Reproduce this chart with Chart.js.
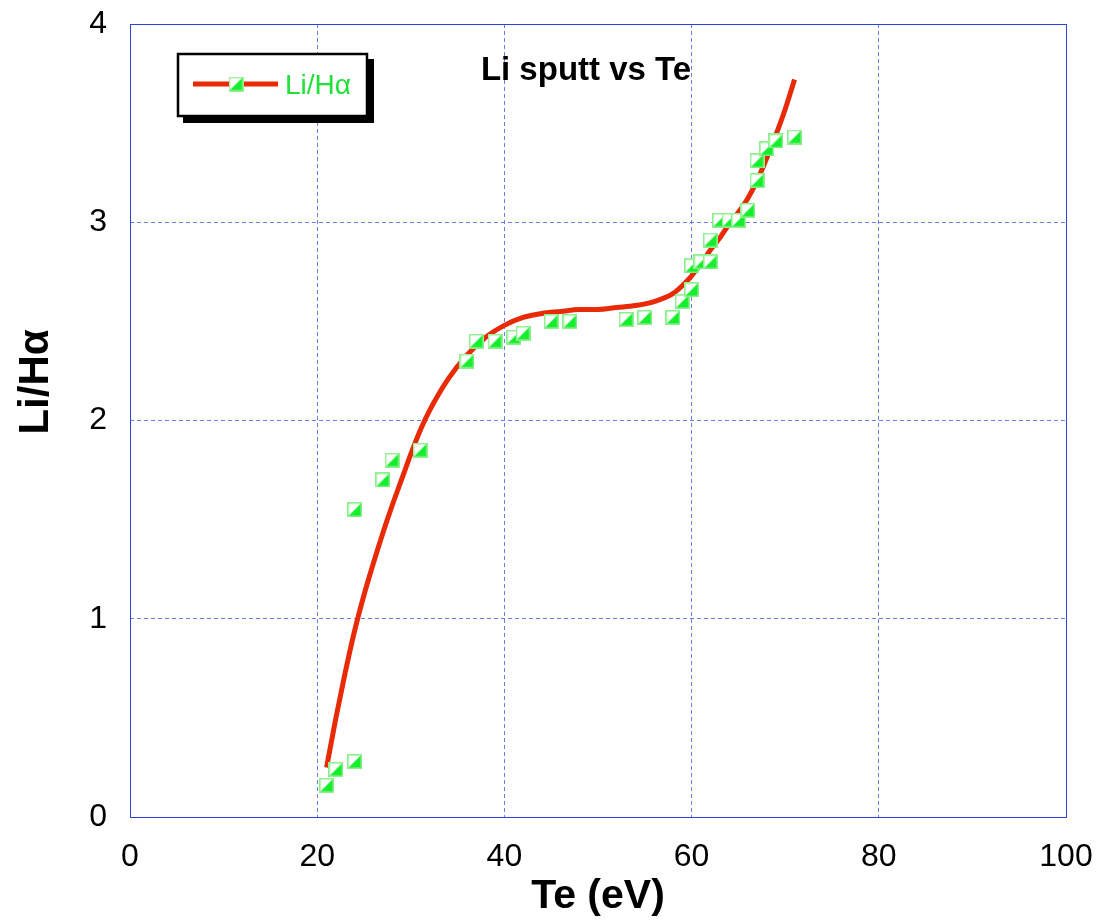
<!DOCTYPE html>
<html><head><meta charset="utf-8">
<script src="https://cdn.jsdelivr.net/npm/chart.js@4/dist/chart.umd.min.js"></script>
<style>html,body{margin:0;padding:0;background:#fff}#wrap{width:1099px;height:923px;position:relative}</style>
</head><body><div id="wrap"><canvas id="c"></canvas></div>
<script>
// measured points
const teData = [21,22,24,24,27,28,31,36,37,39,41,42,45,47,53,55,58,59,60,60,61,62,62,63,64,65,66,67,67,68,69,71];
const liData = [0.16,0.24,0.28,1.55,1.70,1.80,1.85,2.30,2.40,2.40,2.42,2.44,2.50,2.50,2.51,2.52,2.52,2.60,2.66,2.78,2.80,2.80,2.91,3.01,3.01,3.01,3.06,3.21,3.31,3.37,3.41,3.43];
// fitted curve
const fitTe = [21,22,23,24,25,26,27,28,29,30,31,32,34,36,38,40,42,44,46,48,50,52,54,56,58,59,60,61,62,63,64,65,66,67,68,69,70,71];
const fitLi = [0.25,0.50,0.73,0.94,1.12,1.28,1.43,1.57,1.70,1.83,1.95,2.05,2.21,2.33,2.42,2.48,2.52,2.54,2.55,2.56,2.56,2.57,2.58,2.60,2.64,2.68,2.73,2.79,2.86,2.92,2.99,3.05,3.12,3.21,3.32,3.44,3.57,3.72];
const xTicks = [0,20,40,60,80,100];
const yTicks = [0,1,2,3,4];
const seriesLabel = 'Li/H\u03b1';
const chartTitle = 'Li sputt vs Te';
const xTitle = 'Te (eV)';
const yTitle = 'Li/H\u03b1';

const FONT = "'Liberation Sans', Arial, sans-serif";
const GREEN = '#14ee2c';
const GREEN_EDGE = '#8cf08c';
const RED = '#e82a06';

function makeMarker(size) {
  const c = document.createElement('canvas');
  c.width = size; c.height = size;
  const g = c.getContext('2d');
  g.fillStyle = '#fff'; g.fillRect(0,0,size,size);
  g.fillStyle = GREEN;
  g.beginPath(); g.moveTo(0,size); g.lineTo(size,size); g.lineTo(size,0); g.closePath(); g.fill();
  g.strokeStyle = GREEN_EDGE; g.lineWidth = 1.6;
  g.strokeRect(0.8,0.8,size-1.6,size-1.6);
  return c;
}
const marker = makeMarker(15);

const decor = {
  id: 'decor',
  beforeDatasetsDraw(chart) {
    const {ctx, chartArea: a} = chart;
    ctx.save();
    ctx.strokeStyle = '#2a44dc'; ctx.lineWidth = 1;
    ctx.strokeRect(Math.round(a.left)+0.5, Math.round(a.top)+0.5, Math.round(a.right-a.left), Math.round(a.bottom-a.top));
    ctx.restore();
  },
  afterDraw(chart) {
    const {ctx} = chart;
    ctx.save();
    // title
    ctx.fillStyle = '#000';
    ctx.font = 'bold 33px ' + FONT;
    ctx.textAlign = 'center'; ctx.textBaseline = 'middle';
    ctx.fillText(chartTitle, 586, 71);
    // y title
    ctx.save();
    ctx.translate(36, 382);
    ctx.rotate(-Math.PI/2);
    ctx.font = 'bold 42px ' + FONT;
    ctx.fillText(yTitle, 0, 0);
    ctx.restore();
    // legend
    ctx.fillStyle = '#000';
    ctx.fillRect(183, 59, 191, 64);
    ctx.fillStyle = '#fff';
    ctx.fillRect(177, 53, 191, 64);
    ctx.strokeStyle = '#000'; ctx.lineWidth = 2.5;
    ctx.strokeRect(178, 54, 189, 62);
    ctx.strokeStyle = RED; ctx.lineWidth = 5;
    ctx.beginPath(); ctx.moveTo(193, 84); ctx.lineTo(278, 84); ctx.stroke();
    ctx.drawImage(marker, 236 - 7.5, 84 - 7.5);
    ctx.fillStyle = '#22e03a';
    ctx.font = '28px ' + FONT;
    ctx.textAlign = 'left';
    ctx.fillText(seriesLabel, 285, 86);
    ctx.restore();
  }
};

const gridColor = (ctx) => {
  const v = ctx.tick ? ctx.tick.value : null;
  return (v === 0 || v === 100 || v === 4) ? 'rgba(0,0,0,0)' : '#6a7fe6';
};
const noPad = (s) => { s.paddingTop = 0; s.paddingBottom = 0; s.paddingLeft = 0; s.paddingRight = 0; };

new Chart(document.getElementById('c'), {
  type: 'scatter',
  data: {
    datasets: [
      {
        label: seriesLabel,
        data: teData.map((x, i) => ({x, y: liData[i]})),
        pointStyle: marker,
        showLine: false
      },
      {
        label: 'fit',
        data: fitTe.map((x, i) => ({x, y: fitLi[i]})),
        showLine: true,
        borderColor: RED,
        borderWidth: 5,
        pointRadius: 0,
        cubicInterpolationMode: 'monotone',
        fill: false
      }
    ]
  },
  options: {
    responsive: true,
    maintainAspectRatio: false,
    animation: false,
    layout: { padding: { top: 24, right: 33, left: 0, bottom: 0 } },
    plugins: { legend: { display: false }, tooltip: { enabled: false } },
    scales: {
      x: {
        type: 'linear', min: 0, max: 100,
        afterFit(s) { s.height = 106; noPad(s); },
        afterBuildTicks(s) { s.ticks = xTicks.map(v => ({value: v})); },
        ticks: { color: '#000', font: { family: FONT, size: 32 }, padding: 21, maxRotation: 0 },
        grid: { color: gridColor, drawTicks: false },
        border: { display: false, dash: [4,3] },
        title: { display: true, text: xTitle, color: '#000', font: { family: FONT, size: 41, weight: 'bold' }, padding: { top: 0, bottom: 2 } }
      },
      y: {
        type: 'linear', min: 0, max: 4,
        afterFit(s) { s.width = 130; noPad(s); },
        afterBuildTicks(s) { s.ticks = yTicks.map(v => ({value: v})); },
        ticks: { color: '#000', font: { family: FONT, size: 32 }, padding: 23 },
        grid: { color: gridColor, drawTicks: false },
        border: { display: false, dash: [4,3] }
      }
    }
  },
  plugins: [decor]
});
</script>
</body></html>
